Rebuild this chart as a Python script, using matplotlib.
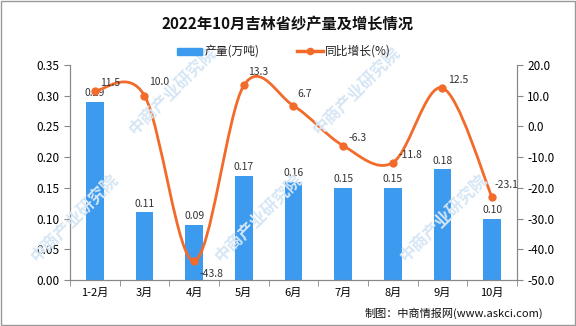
import matplotlib.pyplot as plt
import numpy as np
from matplotlib.path import Path
from matplotlib.patches import PathPatch, Rectangle

plt.rcParams['font.family'] = ['Noto Sans CJK SC', 'DejaVu Sans']

months = ["1-2月", "3月", "4月", "5月", "6月", "7月", "8月", "9月", "10月"]
output = [0.29, 0.11, 0.09, 0.17, 0.16, 0.15, 0.15, 0.18, 0.10]
growth = [11.5, 10.0, -43.8, 13.3, 6.7, -6.3, -11.8, 12.5, -23.1]

bar_color = "#3D9BEF"
line_color = "#F26B2B"


def smooth_path(xs, ys, tension=0.5):
    # Catmull-Rom style bezier through the data points
    xs = np.asarray(xs, float)
    ys = np.asarray(ys, float)
    verts = [(xs[0], ys[0])]
    codes = [Path.MOVETO]
    n = len(xs)
    for i in range(n - 1):
        p0 = i - 1 if i > 0 else i
        p3 = i + 2 if i + 2 < n else i + 1
        c1 = (xs[i] + (xs[i + 1] - xs[p0]) * tension / 3,
              ys[i] + (ys[i + 1] - ys[p0]) * tension / 3)
        c2 = (xs[i + 1] - (xs[p3] - xs[i]) * tension / 3,
              ys[i + 1] - (ys[p3] - ys[i]) * tension / 3)
        verts += [c1, c2, (xs[i + 1], ys[i + 1])]
        codes += [Path.CURVE4] * 3
    return Path(verts, codes)


fig = plt.figure(figsize=(5.76, 3.26), dpi=100)

# faint watermark behind everything
for wx, wy in [(0.13, 0.33), (0.45, 0.33), (0.77, 0.33), (0.3, 0.72), (0.62, 0.72)]:
    fig.text(wx, wy, "中商产业研究院", rotation=45, ha="center", va="center",
             fontsize=12, color="#D6E6F5", fontweight="bold", zorder=0)

ax = fig.add_axes([0.1215, 0.141, 0.776, 0.66])
ax2 = ax.twinx()
ax.patch.set_alpha(0)
ax2.patch.set_alpha(0)

x = np.arange(len(months))
ax.bar(x, output, width=0.36, color=bar_color, zorder=2)
for xi, v in zip(x, output):
    ax.text(xi, v + 0.006, f"{v:.2f}", ha="center", va="bottom",
            fontsize=7.5, color="#333333")

ax.set_xlim(-0.5, len(months) - 0.5)
ax.set_ylim(0, 0.35)
ax.set_yticks(np.arange(0, 0.351, 0.05))
ax.set_yticklabels([f"{t:.2f}" for t in np.arange(0, 0.351, 0.05)])
ax.set_xticks(x)
ax.set_xticklabels(months)
ax.set_xticks(np.arange(-0.5, len(months), 1), minor=True)
ax.tick_params(axis="x", which="major", length=0, labelsize=8, pad=6)
ax.tick_params(axis="x", which="minor", length=4, color="#888888")
ax.tick_params(axis="y", labelsize=8.5, length=4, color="#888888")

ax2.set_ylim(-50, 20)
ax2.set_yticks(np.arange(-50, 20.1, 10))
ax2.set_yticklabels([f"{t:.1f}" for t in np.arange(-50, 20.1, 10)])
ax2.tick_params(axis="y", labelsize=8.5, length=4, color="#888888")

for a in (ax, ax2):
    a.spines["top"].set_visible(False)
    for side in ("left", "right", "bottom"):
        a.spines[side].set_color("#888888")

ax2.add_patch(PathPatch(smooth_path(x, growth), facecolor="none",
                        edgecolor=line_color, lw=2, zorder=3))
ax2.plot(x, growth, "o", color=line_color, ms=5, zorder=4)

offsets = [(4, 2), (3, 6), (4, -6), (3, 6), (3, 5), (4, 2), (4, 2), (4, 2), (2, 5)]
for xi, g, (dx, dy) in zip(x, growth, offsets):
    ax2.annotate(f"{g:.1f}", (xi, g), xytext=(dx, dy), textcoords="offset points",
                 ha="left", va="bottom" if dy > 0 else "top",
                 fontsize=7.5, color="#333333")

# legend
fig.patches.append(Rectangle((0.307, 0.832), 0.043, 0.022, transform=fig.transFigure,
                             color=bar_color))
fig.text(0.355, 0.843, "产量(万吨)", fontsize=8.5, va="center", color="#222222")
fig.lines.append(plt.Line2D([0.515, 0.560], [0.843, 0.843], transform=fig.transFigure,
                            color=line_color, lw=2.5))
fig.lines.append(plt.Line2D([0.5375], [0.843], transform=fig.transFigure,
                            color=line_color, marker="o", ms=4.5))
fig.text(0.565, 0.843, "同比增长(%)", fontsize=8.5, va="center", color="#222222")

fig.text(0.5, 0.925, "2022年10月吉林省纱产量及增长情况", ha="center", va="center",
         fontsize=11, fontweight="bold", color="#111111")
fig.text(0.943, 0.038, "制图：中商情报网(www.askci.com)", ha="right", va="center",
         fontsize=8, color="#111111")

fig.patches.append(Rectangle((0.001, 0.002), 0.997, 0.995, transform=fig.transFigure,
                             fill=False, edgecolor="#999999", lw=1))

fig.savefig("out.png", dpi=100)
